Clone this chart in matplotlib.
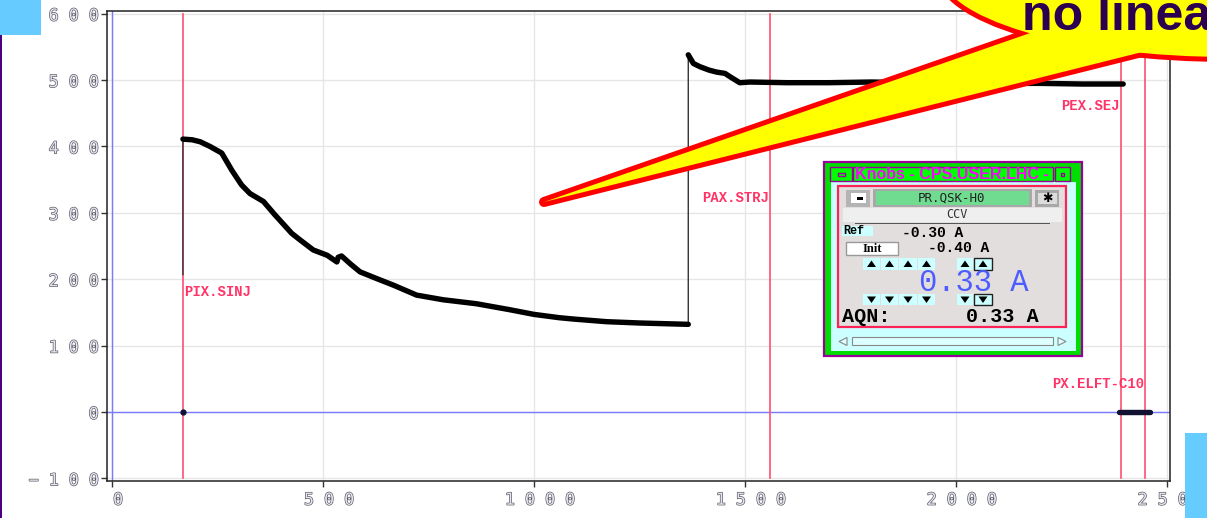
import matplotlib
matplotlib.use("Agg")
import matplotlib.pyplot as plt
import matplotlib.patheffects as pe
import matplotlib.transforms as mtrans
from matplotlib.patches import Rectangle, Ellipse, Polygon

W, H = 1207, 518

# Current trace: injection plateau decay, flat top, extraction
inj_t = [168, 168, 190, 209, 232, 260, 284, 307, 327, 359, 386, 426, 446, 477,
         510, 533, 536, 544, 565, 588, 627, 667, 722, 785, 864, 943, 1000, 1060,
         1093, 1172, 1251, 1366]
inj_v = [207, 411, 410, 407, 400, 390, 364, 342, 329, 317, 297, 269, 259, 244,
         236, 226, 233, 235, 223, 211, 201, 191, 176, 169, 163, 154, 147, 142,
         140, 136, 134, 132]
flat_t = [1366, 1378, 1394, 1415, 1433, 1453, 1465, 1488, 1512, 1600, 1700,
          1800, 1900, 2000, 2100, 2200, 2300, 2397]
flat_v = [538, 525, 520, 515, 512, 510, 505, 496, 497, 496, 496, 497, 496,
          495, 495, 495, 494, 494]
ext_t = [2388, 2460]
ext_v = [0, 0]
start_t = [168]
start_v = [0]

# Timing events
event_names = ["PIX.SINJ", "PAX.STRJ", "PEX.SEJ", "PX.ELFT-C10"]
event_t = [168, 1560, 2392, 2448]
event_label_v = [181, 322, 461, 42]
event_label_ha = ["left", "right", "right", "right"]

xticks = [0, 500, 1000, 1500, 2000, 2500]
yticks = [-100, 0, 100, 200, 300, 400, 500, 600]


def spaced(v):
    s = str(v).replace("-", "\u2212")
    return " ".join(s)


fig = plt.figure(figsize=(W / 100, H / 100), dpi=100)
fig.patch.set_facecolor("white")
ax = fig.add_axes([107 / W, 37 / H, 1063 / W, 470 / H])
ax.set_xlim(-12, 2508)
ax.set_ylim(-104, 604)

ax.set_axisbelow(True)
ax.grid(True, color="#e6e6e6", lw=1.0)
for sp in ax.spines.values():
    sp.set_color("#222222")
    sp.set_linewidth(1.1)

tick_fx = [pe.Stroke(linewidth=0.9, foreground="#505050"), pe.Normal()]
ax.set_xticks(xticks)
ax.set_xticklabels([spaced(v) for v in xticks])
ax.set_yticks(yticks)
ax.set_yticklabels([spaced(v) for v in yticks])
ax.tick_params(axis="both", direction="out", length=4, width=1, color="#333333",
               labelsize=12, labelcolor="#e4e4f8")
ax.tick_params(axis="y", pad=2)
ax.tick_params(axis="x", pad=3)
shift = mtrans.ScaledTranslation(6 / 100, 0, fig.dpi_scale_trans)
for lab in ax.get_xticklabels():
    lab.set_transform(lab.get_transform() + shift)
for lab in ax.get_xticklabels() + ax.get_yticklabels():
    lab.set_family("DejaVu Sans Mono")
    lab.set_path_effects(tick_fx)

# zero axes
ax.axhline(0, color="#7a7aff", lw=1.0, zorder=1)
ax.axvline(0, color="#7a7aff", lw=1.0, zorder=1)

# event markers
for name, t, lv, ha in zip(event_names, event_t, event_label_v, event_label_ha):
    ax.plot([t, t], [-100, 600], color="#ff4f70", lw=1.2, zorder=2)
    ax.text(t + (2 if ha == "left" else -2), lv, name, ha=ha, va="center",
            color="#ff3366", fontsize=10, fontweight="bold",
            family="Liberation Mono", zorder=3)

# trace
ax.plot(inj_t + flat_t, inj_v + flat_v, color="#333333", lw=1.0, zorder=3)
ax.plot(inj_t[1:], inj_v[1:], color="black", lw=3.9, solid_capstyle="round",
        solid_joinstyle="round", zorder=4)
ax.plot(flat_t, flat_v, color="black", lw=3.9, solid_capstyle="round",
        solid_joinstyle="round", zorder=4)
ax.plot(ext_t, ext_v, color="#111133", lw=3.9, solid_capstyle="round", zorder=4)
ax.plot(start_t, start_v, "o", color="#111133", ms=3.5, zorder=4)


# ---- helpers in pixel coordinates (origin top-left) ----
def fx(x):
    return x / W


def fy(y):
    return 1 - y / H


def px_rect(x0, y0, x1, y1, fc, ec="none", lw=0, z=20):
    fig.add_artist(Rectangle((fx(x0), fy(y1)), (x1 - x0) / W, (y1 - y0) / H,
                             transform=fig.transFigure, facecolor=fc,
                             edgecolor=ec, linewidth=lw, zorder=z))


def px_poly(pts, fc, ec="none", lw=0, z=20, **kw):
    fig.add_artist(Polygon([(fx(x), fy(y)) for x, y in pts], closed=True,
                           transform=fig.transFigure, facecolor=fc,
                           edgecolor=ec, linewidth=lw, zorder=z, **kw))


def px_text(x, y, s, z=22, **kw):
    fig.text(fx(x), fy(y), s, zorder=z, **kw)


# slide decorations
px_rect(0, 0, 41, 35, "#66ccff", z=30)
px_rect(1185, 433, 1207, 518, "#66ccff", z=30)
px_rect(0, 35, 2, 518, "#4b0082", z=30)

# ---- Knobs window ----
px_rect(824, 162, 1082, 356, "#00dd00", ec="#990099", lw=1.6, z=20)
px_rect(831, 182, 1076, 351, "#ccffff", z=20)
px_rect(830, 167, 852, 181, "#00ff00", ec="#990099", lw=1.0, z=21)
px_rect(838, 173, 845, 176, "none", ec="#990099", lw=1.0, z=22)
px_rect(853, 167, 1053, 181, "#00ff00", ec="#990099", lw=1.0, z=21)
px_rect(1055, 167, 1070, 181, "#00ff00", ec="#990099", lw=1.0, z=21)
px_rect(1061, 173, 1064, 176, "none", ec="#990099", lw=1.0, z=22)
px_text(855, 174.5, "Knobs - CPS.USER.LHC -", color="#ff00ff", fontsize=11.5,
        fontweight="bold", family="Liberation Sans", va="center", ha="left")

px_rect(838, 186, 1066, 327, "#e2dede", ec="#ff2255", lw=1.6, z=21)
# top row
px_rect(846, 190, 870, 207, "#b4b4b4", z=22)
px_rect(851, 193, 866, 203, "white", z=22)
px_rect(857, 197, 863, 199.5, "black", z=23)
px_rect(873, 189, 1032, 207, "#a8a8a8", z=22)
px_rect(876, 191, 1029, 205.5, "#70dc90", z=22)
px_text(952, 198, "PR.QSK-H0", color="#222222", fontsize=9,
        family="DejaVu Sans Mono", ha="center", va="center", z=23)
px_rect(1035, 190, 1059, 207, "#a8a8a8", z=22)
px_rect(1038, 192.5, 1056.5, 204, "#dcdcdc", z=22)
px_text(1047, 198.5, "\u2731", color="black", fontsize=9, family="DejaVu Sans",
        ha="center", va="center", z=23)
# CCV band
px_rect(843, 208, 1062, 222, "#efefef", z=22)
px_text(957, 215, "CCV", color="#333333", fontsize=8.5,
        family="DejaVu Sans Mono", ha="center", va="center", z=23)
px_rect(855, 222.5, 1050, 223.5, "#555555", z=23)
# Ref / Init
px_rect(842, 226, 873, 236.5, "#ccffff", z=22)
px_text(843, 231, "Ref", color="black", fontsize=8.5, fontweight="bold",
        family="Liberation Mono", ha="left", va="center", z=23)
px_text(902, 233, "-0.30 A", color="black", fontsize=10.5, fontweight="bold",
        family="Liberation Mono", ha="left", va="center", z=23)
px_rect(846, 241.5, 898, 255, "white", ec="#999999", lw=1.0, z=22)
px_text(872, 248.5, "Init", color="black", fontsize=9, fontweight="bold",
        family="Liberation Serif", ha="center", va="center", z=23)
px_text(928, 247.5, "-0.40 A", color="black", fontsize=10.5, fontweight="bold",
        family="Liberation Mono", ha="left", va="center", z=23)

# increment / decrement buttons
btn_x = [(863, 880), (881, 898), (899, 917), (918, 935), (957, 973), (974, 992)]
for i, (a, b) in enumerate(btn_x):
    framed = i == len(btn_x) - 1
    for (y0, y1, up) in [(258, 270, True), (294, 305, False)]:
        px_rect(a, y0, b, y1, "#ccffff", ec="#222222" if framed else "none",
                lw=1.0 if framed else 0, z=22)
        cx, cy = (a + b) / 2, (y0 + y1) / 2
        if up:
            pts = [(cx - 4.5, cy + 3), (cx + 4.5, cy + 3), (cx, cy - 3.5)]
        else:
            pts = [(cx - 4.5, cy - 3), (cx + 4.5, cy - 3), (cx, cy + 3.5)]
        px_poly(pts, "black", z=23)

px_text(919, 283, "0.33 A", color="#4d5cff", fontsize=22,
        family="Liberation Mono", ha="left", va="center", z=23)
px_text(842, 316.5, "AQN:", color="black", fontsize=14.5, fontweight="bold",
        family="Liberation Mono", ha="left", va="center", z=23)
px_text(966, 316.5, "0.33 A", color="black", fontsize=14.5, fontweight="bold",
        family="Liberation Mono", ha="left", va="center", z=23)

# scrollbar
px_rect(833, 335, 1070, 347, "#ccffff", z=21)
px_rect(852, 337, 1053, 345, "#ddffff", ec="#888888", lw=0.8, z=22)
px_poly([(847, 337.5), (847, 345.5), (839, 341.5)], "#ddffff", ec="#888888",
        lw=0.8, z=22)
px_poly([(1058, 337.5), (1058, 345.5), (1066, 341.5)], "#ddffff", ec="#888888",
        lw=0.8, z=22)

# ---- speech callout ----
ell_c, ell_w, ell_h = (1230, -29), 580, 172
tri = [(544, 202), (1131, -2), (1230, 30)]
red, yellow = "#ff0000", "#ffff00"
fig.add_artist(Ellipse((fx(ell_c[0]), fy(ell_c[1])), ell_w / W, ell_h / H,
                       transform=fig.transFigure, facecolor=red, edgecolor=red,
                       linewidth=7.2, zorder=40))
px_poly(tri, red, ec=red, lw=7.2, z=40, joinstyle="round")
fig.add_artist(Ellipse((fx(ell_c[0]), fy(ell_c[1])), ell_w / W, ell_h / H,
                       transform=fig.transFigure, facecolor=yellow,
                       edgecolor="none", zorder=41))
px_poly(tri, yellow, z=41)
px_text(1022, 30, "no linear", color="#2b0050", fontsize=36, fontweight="bold",
        family="Liberation Sans", ha="left", va="baseline", z=42)

fig.savefig("out.png", dpi=100, facecolor="white")
